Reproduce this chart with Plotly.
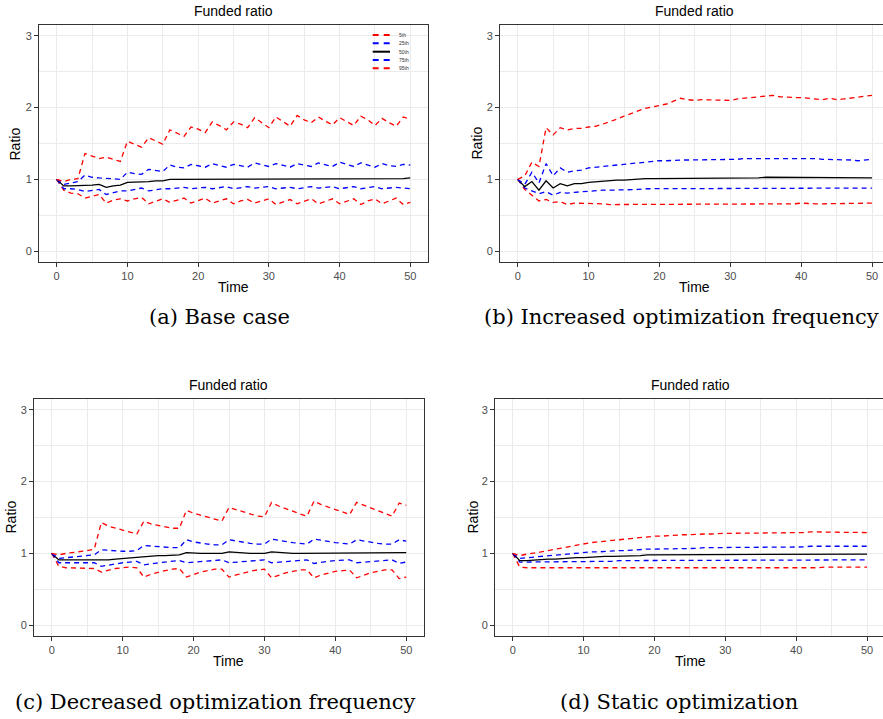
import plotly.graph_objects as go

W, H = 883, 719

# ---------------------------------------------------------------- data
time = list(range(51))
pct_labels = ["5th", "25th", "50th", "75th", "95th"]

# (a) Base case
a_p95 = [
    1.00, 0.97, 1.00, 1.01, 1.36, 1.32, 1.29, 1.31, 1.28, 1.25,
    1.53, 1.49, 1.45, 1.58, 1.53, 1.49, 1.69, 1.65, 1.60, 1.73,
    1.70, 1.65, 1.80, 1.75, 1.69, 1.80, 1.77, 1.72, 1.86, 1.79,
    1.72, 1.87, 1.81, 1.74, 1.89, 1.83, 1.79, 1.87, 1.81, 1.76,
    1.86, 1.81, 1.75, 1.88, 1.83, 1.75, 1.85, 1.79, 1.74, 1.87,
    1.84]
a_p75 = [
    1.00, 0.93, 0.95, 0.97, 1.06, 1.03, 1.02, 1.02, 1.01, 1.00,
    1.10, 1.08, 1.07, 1.14, 1.12, 1.11, 1.20, 1.17, 1.16, 1.21,
    1.19, 1.17, 1.22, 1.20, 1.17, 1.21, 1.19, 1.17, 1.23, 1.20,
    1.18, 1.22, 1.19, 1.17, 1.22, 1.20, 1.18, 1.23, 1.20, 1.18,
    1.24, 1.21, 1.18, 1.23, 1.20, 1.17, 1.22, 1.19, 1.18, 1.21,
    1.20]
a_p50 = [
    1.00, 0.91, 0.91, 0.91, 0.92, 0.92, 0.93, 0.89, 0.91, 0.92,
    0.96, 0.96, 0.97, 0.97, 0.98, 0.98, 1.00, 1.00, 1.00, 1.00,
    1.00, 1.00, 1.01, 1.01, 1.00, 1.01, 1.01, 1.01, 1.01, 1.01,
    1.01, 1.01, 1.01, 1.01, 1.01, 1.01, 1.01, 1.01, 1.01, 1.01,
    1.01, 1.01, 1.01, 1.01, 1.01, 1.01, 1.01, 1.01, 1.01, 1.01,
    1.02]
a_p25 = [
    1.00, 0.87, 0.87, 0.86, 0.83, 0.85, 0.86, 0.79, 0.82, 0.84,
    0.84, 0.86, 0.88, 0.84, 0.86, 0.87, 0.87, 0.88, 0.89, 0.87,
    0.88, 0.89, 0.87, 0.89, 0.90, 0.87, 0.88, 0.90, 0.88, 0.89,
    0.90, 0.87, 0.88, 0.89, 0.87, 0.89, 0.90, 0.88, 0.89, 0.90,
    0.87, 0.89, 0.90, 0.87, 0.88, 0.90, 0.87, 0.88, 0.89, 0.88,
    0.87]
a_p5 = [
    1.00, 0.85, 0.81, 0.80, 0.74, 0.76, 0.79, 0.67, 0.71, 0.73,
    0.70, 0.73, 0.75, 0.66, 0.70, 0.73, 0.68, 0.71, 0.74, 0.67,
    0.71, 0.74, 0.67, 0.70, 0.73, 0.66, 0.70, 0.72, 0.67, 0.70,
    0.73, 0.65, 0.69, 0.72, 0.66, 0.70, 0.73, 0.66, 0.70, 0.73,
    0.66, 0.70, 0.73, 0.65, 0.70, 0.73, 0.66, 0.70, 0.74, 0.65,
    0.68]

# (b) Increased optimization frequency
b_p95 = [
    1.00, 1.05, 1.24, 1.18, 1.72, 1.62, 1.72, 1.69, 1.71, 1.71,
    1.73, 1.74, 1.77, 1.80, 1.84, 1.88, 1.92, 1.96, 1.99, 2.01,
    2.03, 2.05, 2.09, 2.13, 2.11, 2.10, 2.11, 2.11, 2.11, 2.10,
    2.10, 2.12, 2.13, 2.14, 2.15, 2.16, 2.17, 2.15, 2.14, 2.14,
    2.14, 2.13, 2.12, 2.11, 2.13, 2.11, 2.12, 2.13, 2.14, 2.16,
    2.17]
b_p75 = [
    1.00, 0.93, 1.10, 0.95, 1.22, 1.05, 1.16, 1.10, 1.12, 1.13,
    1.16, 1.17, 1.18, 1.19, 1.20, 1.22, 1.23, 1.24, 1.25, 1.26,
    1.26, 1.26, 1.27, 1.27, 1.27, 1.27, 1.28, 1.28, 1.28, 1.28,
    1.28, 1.28, 1.29, 1.29, 1.29, 1.29, 1.29, 1.29, 1.30, 1.30,
    1.29, 1.29, 1.29, 1.28, 1.28, 1.28, 1.27, 1.27, 1.26, 1.27,
    1.28]
b_p50 = [
    1.00, 0.90, 0.97, 0.85, 0.98, 0.88, 0.94, 0.91, 0.94, 0.94,
    0.96, 0.97, 0.98, 0.98, 0.99, 0.99, 1.00, 1.00, 1.01, 1.01,
    1.01, 1.01, 1.02, 1.02, 1.02, 1.02, 1.02, 1.02, 1.02, 1.02,
    1.02, 1.02, 1.02, 1.02, 1.02, 1.03, 1.03, 1.03, 1.03, 1.02,
    1.02, 1.02, 1.02, 1.02, 1.02, 1.02, 1.02, 1.02, 1.02, 1.02,
    1.02]
b_p25 = [
    1.00, 0.88, 0.84, 0.80, 0.83, 0.78, 0.82, 0.81, 0.82, 0.83,
    0.84, 0.84, 0.85, 0.85, 0.85, 0.86, 0.86, 0.86, 0.87, 0.87,
    0.87, 0.87, 0.87, 0.87, 0.87, 0.88, 0.88, 0.88, 0.88, 0.88,
    0.88, 0.88, 0.88, 0.88, 0.88, 0.88, 0.88, 0.88, 0.88, 0.88,
    0.88, 0.88, 0.88, 0.88, 0.87, 0.87, 0.87, 0.87, 0.88, 0.88,
    0.88]
b_p5 = [
    1.00, 0.86, 0.78, 0.70, 0.72, 0.68, 0.69, 0.65, 0.67, 0.67,
    0.66, 0.66, 0.66, 0.65, 0.65, 0.66, 0.66, 0.66, 0.66, 0.66,
    0.66, 0.66, 0.66, 0.66, 0.66, 0.66, 0.66, 0.66, 0.66, 0.66,
    0.66, 0.66, 0.66, 0.66, 0.66, 0.66, 0.66, 0.66, 0.66, 0.66,
    0.67, 0.66, 0.66, 0.66, 0.66, 0.66, 0.66, 0.66, 0.66, 0.66,
    0.67]

# (c) Decreased optimization frequency
c_p95 = [
    1.00, 0.98, 1.00, 1.01, 1.02, 1.04, 1.06, 1.43, 1.38, 1.35,
    1.32, 1.30, 1.27, 1.45, 1.41, 1.39, 1.37, 1.35, 1.35, 1.60,
    1.56, 1.53, 1.50, 1.48, 1.45, 1.64, 1.61, 1.58, 1.55, 1.52,
    1.51, 1.71, 1.66, 1.62, 1.58, 1.55, 1.52, 1.73, 1.68, 1.64,
    1.61, 1.58, 1.54, 1.71, 1.67, 1.63, 1.59, 1.56, 1.52, 1.70,
    1.67]
c_p75 = [
    1.00, 0.93, 0.94, 0.95, 0.96, 0.97, 0.98, 1.05, 1.04, 1.03,
    1.03, 1.03, 1.04, 1.11, 1.10, 1.09, 1.08, 1.08, 1.08, 1.19,
    1.16, 1.14, 1.13, 1.12, 1.12, 1.19, 1.17, 1.15, 1.14, 1.13,
    1.13, 1.20, 1.18, 1.16, 1.15, 1.14, 1.13, 1.20, 1.18, 1.16,
    1.15, 1.14, 1.13, 1.19, 1.17, 1.15, 1.14, 1.13, 1.13, 1.19,
    1.17]
c_p50 = [
    1.00, 0.91, 0.91, 0.91, 0.91, 0.91, 0.91, 0.90, 0.91, 0.92,
    0.93, 0.94, 0.95, 0.96, 0.96, 0.97, 0.97, 0.98, 0.98, 1.01,
    1.00, 1.00, 1.00, 1.00, 1.00, 1.02, 1.01, 1.01, 1.00, 1.00,
    1.00, 1.02, 1.01, 1.01, 1.00, 1.00, 1.00, 1.01, 1.01, 1.00,
    1.00, 1.00, 1.00, 1.01, 1.01, 1.00, 1.00, 1.00, 1.00, 1.01,
    1.01]
c_p25 = [
    1.00, 0.87, 0.87, 0.87, 0.87, 0.87, 0.87, 0.82, 0.84, 0.86,
    0.87, 0.88, 0.89, 0.84, 0.86, 0.87, 0.88, 0.89, 0.90, 0.87,
    0.88, 0.89, 0.90, 0.91, 0.91, 0.87, 0.88, 0.89, 0.90, 0.91,
    0.91, 0.87, 0.88, 0.89, 0.90, 0.91, 0.91, 0.86, 0.88, 0.89,
    0.90, 0.91, 0.91, 0.87, 0.88, 0.89, 0.90, 0.91, 0.91, 0.86,
    0.88]
c_p5 = [
    1.00, 0.82, 0.80, 0.80, 0.80, 0.79, 0.79, 0.74, 0.77, 0.79,
    0.80, 0.81, 0.80, 0.67, 0.71, 0.74, 0.76, 0.78, 0.79, 0.67,
    0.71, 0.74, 0.76, 0.78, 0.78, 0.67, 0.70, 0.73, 0.75, 0.77,
    0.78, 0.66, 0.70, 0.73, 0.75, 0.77, 0.77, 0.66, 0.70, 0.73,
    0.75, 0.76, 0.77, 0.66, 0.70, 0.73, 0.75, 0.77, 0.77, 0.65,
    0.67]

# (d) Static optimization
d_p95 = [
    1.00, 0.97, 0.99, 1.00, 1.02, 1.04, 1.06, 1.08, 1.10, 1.12,
    1.14, 1.15, 1.16, 1.17, 1.19, 1.20, 1.21, 1.22, 1.22, 1.23,
    1.24, 1.24, 1.25, 1.25, 1.26, 1.26, 1.27, 1.27, 1.27, 1.28,
    1.28, 1.28, 1.28, 1.28, 1.29, 1.29, 1.29, 1.29, 1.29, 1.29,
    1.29, 1.29, 1.30, 1.30, 1.30, 1.30, 1.29, 1.29, 1.29, 1.29,
    1.29]
d_p75 = [
    1.00, 0.93, 0.94, 0.95, 0.96, 0.97, 0.98, 0.99, 0.99, 1.00,
    1.01, 1.02, 1.02, 1.03, 1.03, 1.04, 1.04, 1.05, 1.05, 1.06,
    1.06, 1.06, 1.06, 1.07, 1.07, 1.07, 1.07, 1.08, 1.08, 1.08,
    1.08, 1.08, 1.08, 1.09, 1.09, 1.09, 1.09, 1.09, 1.09, 1.09,
    1.09, 1.09, 1.10, 1.10, 1.10, 1.10, 1.10, 1.10, 1.10, 1.10,
    1.10]
d_p50 = [
    1.00, 0.90, 0.90, 0.91, 0.91, 0.92, 0.92, 0.93, 0.93, 0.94,
    0.94, 0.95, 0.95, 0.96, 0.96, 0.96, 0.97, 0.97, 0.97, 0.98,
    0.98, 0.98, 0.98, 0.98, 0.98, 0.99, 0.99, 0.99, 0.99, 0.99,
    0.99, 0.99, 0.99, 0.99, 0.99, 0.99, 0.99, 0.99, 0.99, 0.99,
    0.99, 0.99, 0.99, 0.99, 0.99, 0.99, 0.99, 0.99, 0.99, 0.99,
    0.99]
d_p25 = [
    1.00, 0.88, 0.88, 0.88, 0.88, 0.88, 0.88, 0.89, 0.89, 0.89,
    0.89, 0.89, 0.89, 0.89, 0.89, 0.90, 0.90, 0.90, 0.90, 0.90,
    0.90, 0.90, 0.90, 0.90, 0.90, 0.90, 0.90, 0.90, 0.90, 0.90,
    0.90, 0.90, 0.90, 0.90, 0.90, 0.91, 0.91, 0.91, 0.91, 0.91,
    0.91, 0.91, 0.91, 0.91, 0.91, 0.91, 0.91, 0.91, 0.91, 0.91,
    0.91]
d_p5 = [
    1.00, 0.81, 0.80, 0.80, 0.79, 0.79, 0.79, 0.79, 0.79, 0.79,
    0.79, 0.79, 0.79, 0.79, 0.80, 0.80, 0.80, 0.80, 0.80, 0.80,
    0.80, 0.80, 0.80, 0.80, 0.80, 0.80, 0.80, 0.80, 0.80, 0.80,
    0.80, 0.80, 0.80, 0.80, 0.80, 0.80, 0.80, 0.80, 0.80, 0.80,
    0.80, 0.80, 0.80, 0.80, 0.81, 0.81, 0.81, 0.81, 0.81, 0.81,
    0.81]

x_ticks = [0, 10, 20, 30, 40, 50]
y_ticks = [0, 1, 2, 3]
captions = ["(a) Base case", "(b) Increased optimization frequency",
            "(c) Decreased optimization frequency", "(d) Static optimization"]

# ---------------------------------------------------------------- styling
RED, BLUE, BLACK = "#FF0000", "#0000FF", "#000000"
DASH = "5px,4px"
pct_colors = [RED, BLUE, BLACK, BLUE, RED]
pct_dashes = [DASH, DASH, "solid", DASH, DASH]
SANS = "Liberation Sans, Arial, sans-serif"
SERIF = "DejaVu Serif, serif"
FRAME = "#333333"
GRID = "#EBEBEB"


def fx(px):
    return px / W


def fy(py):
    return 1 - py / H


# panel boxes in pixels: (left, right, top, bottom), x-range, draw right frame
panels = [
    dict(series=[a_p5, a_p25, a_p50, a_p75, a_p95], box=(39, 428, 25, 262),
         xr=[-2.5, 52.5], right=True, cx=233.5, ylab=15, cap=(219.5, 317)),
    dict(series=[b_p5, b_p25, b_p50, b_p75, b_p95], box=(500, 883, 25, 262),
         xr=[-2.5, 51.55], right=False, cx=694.8, ylab=477, cap=(681, 317)),
    dict(series=[c_p5, c_p25, c_p50, c_p75, c_p95], box=(34, 424, 399, 636),
         xr=[-2.5, 52.5], right=True, cx=229, ylab=10, cap=(215.5, 702)),
    dict(series=[d_p5, d_p25, d_p50, d_p75, d_p95], box=(495, 883, 399, 636),
         xr=[-2.5, 52.25], right=False, cx=690, ylab=472, cap=(679, 702)),
]

fig = go.Figure()
annotations = []
layout_axes = {}

for i, p in enumerate(panels, start=1):
    sfx = "" if i == 1 else str(i)
    left, right, top, bottom = p["box"]
    for vals, lab, col, dash in zip(p["series"], pct_labels, pct_colors, pct_dashes):
        fig.add_trace(go.Scatter(
            x=time, y=vals, mode="lines", name=lab,
            line=dict(color=col, width=1.3, dash=dash),
            xaxis="x" + sfx, yaxis="y" + sfx, showlegend=False,
            hoverinfo="skip"))

    common = dict(showline=True, linecolor=FRAME, linewidth=1,
                  ticks="outside", ticklen=4, tickwidth=1, tickcolor=FRAME,
                  tickfont=dict(family=SANS, size=11, color="#4D4D4D"),
                  showgrid=True, gridcolor=GRID, gridwidth=1,
                  zeroline=False, fixedrange=True)
    layout_axes["xaxis" + sfx] = dict(
        common, domain=[fx(left), fx(right)], range=p["xr"], anchor="y" + sfx,
        tickvals=x_ticks, mirror=True,
        minor=dict(dtick=5, tick0=0, showgrid=True, gridcolor=GRID, gridwidth=0.6))
    layout_axes["yaxis" + sfx] = dict(
        common, domain=[fy(bottom), fy(top)], range=[-0.15, 3.15], anchor="x" + sfx,
        tickvals=y_ticks, mirror=p["right"],
        minor=dict(dtick=0.5, tick0=0, showgrid=True, gridcolor=GRID, gridwidth=0.6))

    # panel title, axis titles and caption
    annotations.append(dict(text="Funded ratio", x=fx(p["cx"]), y=fy(top - 14),
                            xref="paper", yref="paper", showarrow=False,
                            xanchor="center", yanchor="middle",
                            font=dict(family=SANS, size=14, color="#000000")))
    annotations.append(dict(text="Time", x=fx(p["cx"]), y=fy(bottom + 25),
                            xref="paper", yref="paper", showarrow=False,
                            xanchor="center", yanchor="middle",
                            font=dict(family=SANS, size=14, color="#000000")))
    annotations.append(dict(text="Ratio", x=fx(p["ylab"]), y=fy((top + bottom) / 2),
                            xref="paper", yref="paper", showarrow=False, textangle=-90,
                            xanchor="center", yanchor="middle",
                            font=dict(family=SANS, size=14, color="#000000")))
    annotations.append(dict(text=captions[i - 1], x=fx(p["cap"][0]), y=fy(p["cap"][1]),
                            xref="paper", yref="paper", showarrow=False,
                            xanchor="center", yanchor="middle",
                            font=dict(family=SERIF, size=21, color="#000000")))

# small key inside the first panel
shapes = []
key_rows = [35, 43.3, 51.7, 60, 68.3]
for lab, col, dash, ky in zip(pct_labels, pct_colors, pct_dashes, key_rows):
    shapes.append(dict(type="line", xref="paper", yref="paper",
                       x0=fx(372.7), x1=fx(390), y0=fy(ky), y1=fy(ky),
                       line=dict(color=col, width=2, dash="6px,5px" if dash != "solid" else "solid")))
    annotations.append(dict(text=lab, x=fx(397), y=fy(ky), xref="paper", yref="paper",
                            showarrow=False, xanchor="left", yanchor="middle",
                            font=dict(family=SANS, size=5, color="#333333")))

fig.update_layout(
    width=W, height=H, margin=dict(l=0, r=0, t=0, b=0),
    paper_bgcolor="white", plot_bgcolor="white", showlegend=False,
    annotations=annotations, shapes=shapes, **layout_axes)

fig.write_html("out.html")
